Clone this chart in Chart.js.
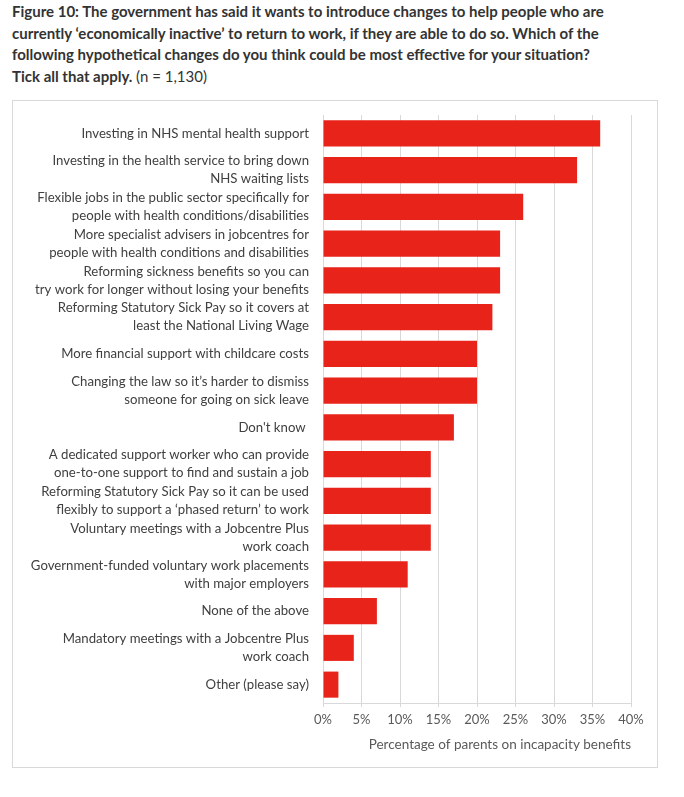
<!DOCTYPE html>
<html>
<head>
<meta charset="utf-8">
<script src="https://cdn.jsdelivr.net/npm/chart.js@4.4.1/dist/chart.umd.min.js"></script>
<style>
  html, body { margin: 0; padding: 0; background: #fff; }
  body { width: 684px; height: 797px; position: relative; overflow: hidden; }
  #titulo {
    position: absolute; left: 12px; top: 1px; width: 670px;
    font-family: Lato, sans-serif; font-weight: bold; font-size: 15px;
    line-height: 21.7px; color: #333; white-space: nowrap;
  }
  #titulo span { font-weight: normal; }
  #caixa {
    position: absolute; left: 12px; top: 100px; width: 644px; height: 666px;
    border: 1px solid #d9d9d9;
  }
</style>
</head>
<body>
<div id="titulo">
  Figure 10: The government has said it wants to introduce changes to help people who are<br>
  currently ‘economically inactive’ to return to work, if they are able to do so. Which of the<br>
  following hypothetical changes do you think could be most effective for your situation?<br>
  Tick all that apply. <span>(n = 1,130)</span>
</div>
<div id="caixa"><canvas id="grafico" width="644" height="666"></canvas></div>
<script>
// categorias (linhas quebradas como no original)
const categorias = [
  'Investing in NHS mental health support',
  ['Investing in the health service to bring down', 'NHS waiting lists'],
  ['Flexible jobs in the public sector specifically for', 'people with health conditions/disabilities'],
  ['More specialist advisers in jobcentres for', 'people with health conditions and disabilities'],
  ['Reforming sickness benefits so you can', 'try work for longer without losing your benefits'],
  ['Reforming Statutory Sick Pay so it covers at', 'least the National Living Wage'],
  'More financial support with childcare costs',
  ['Changing the law so it’s harder to dismiss', 'someone for going on sick leave'],
  "Don't know ",
  ['A dedicated support worker who can provide', 'one-to-one support to find and sustain a job'],
  ['Reforming Statutory Sick Pay so it can be used', 'flexibly to support a ‘phased return’ to work'],
  ['Voluntary meetings with a Jobcentre Plus', 'work coach'],
  ['Government-funded voluntary work placements', 'with major employers'],
  'None of the above',
  ['Mandatory meetings with a Jobcentre Plus', 'work coach'],
  'Other (please say)'
];

// percentagem de pais com benefícios por incapacidade
const valores = [36, 33, 26, 23, 23, 22, 20, 20, 17, 14, 14, 14, 11, 7, 4, 2];

const eixoMin = 0;
const eixoMax = 40;
const eixoPasso = 5;
const tituloEixoX = 'Percentage of parents on incapacity benefits';

const ctx = document.getElementById('grafico').getContext('2d');

new Chart(ctx, {
  type: 'bar',
  data: {
    labels: categorias,
    datasets: [{
      data: valores,
      backgroundColor: '#e8231a',
      borderWidth: 0,
      categoryPercentage: 0.71,
      barPercentage: 1
    }]
  },
  options: {
    indexAxis: 'y',
    responsive: false,
    animation: false,
    layout: { padding: { top: 14, right: 26, left: 0, bottom: 0 } },
    plugins: {
      legend: { display: false },
      tooltip: { enabled: false }
    },
    scales: {
      x: {
        min: eixoMin,
        max: eixoMax,
        ticks: {
          stepSize: eixoPasso,
          color: '#595959',
          font: { family: 'Lato', size: 13 },
          padding: 5,
          callback: v => v + '%'
        },
        grid: { color: '#d9d9d9', lineWidth: 1, tickLength: 4 },
        border: { display: true, color: '#d9d9d9' },
        title: {
          display: true,
          text: tituloEixoX,
          align: 'end',
          color: '#595959',
          font: { family: 'Lato', size: 13.5 },
          padding: { top: 4, bottom: 14 }
        },
        afterFit: s => { s.height = 64; s.paddingLeft = 0; s.paddingRight = 0; }
      },
      y: {
        ticks: {
          color: '#404040',
          font: { family: 'Lato', size: 13.2, lineHeight: 1.35 },
          padding: 14,
          autoSkip: false
        },
        grid: { display: false, drawTicks: false },
        border: { display: true, color: '#d9d9d9' },
        afterFit: s => { s.width = 310; s.paddingTop = 0; s.paddingBottom = 0; }
      }
    }
  }
});
</script>
</body>
</html>
